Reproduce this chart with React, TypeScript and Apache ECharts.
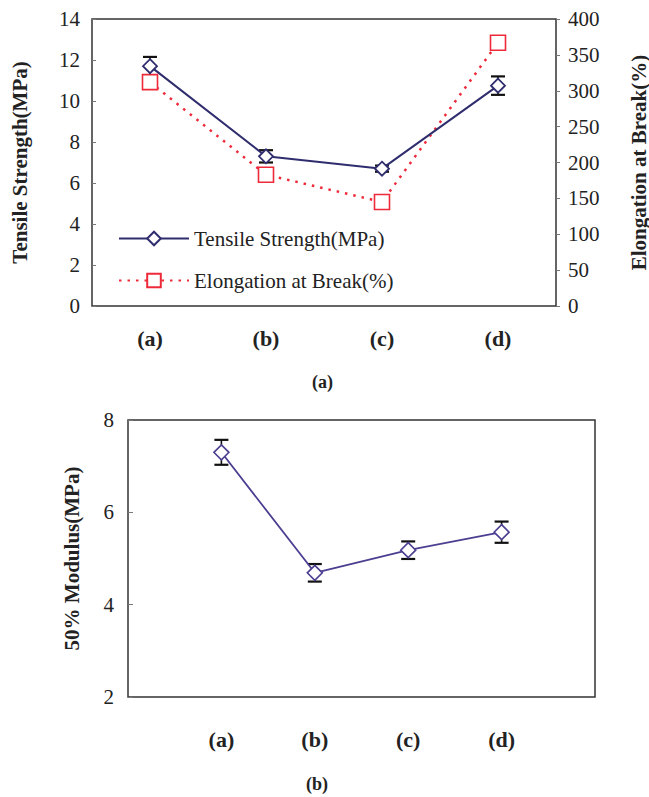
import React, { useEffect, useRef } from "react";
import * as echarts from "echarts";

const categories = ["(a)", "(b)", "(c)", "(d)"];
const tensileStrength = [11.7, 7.3, 6.7, 10.75];
const tensileError = [0.45, 0.3, 0.15, 0.45];
const elongation = [312, 183, 145, 367];
const modulus = [7.3, 4.69, 5.18, 5.57];
const modulusError = [0.27, 0.19, 0.19, 0.23];
const captions = ["(a)", "(b)"];

const SERIF = "'Liberation Serif', 'Times New Roman', serif";
const TXT = "#222";
const NAVY = "#2f2d6e";
const PURPLE = "#4b3f91";
const RED = "#ee2a3a";

function errorRender(params: any, api: any) {
  const x = api.value(0);
  const lo = api.value(1);
  const hi = api.value(2);
  const pLo = api.coord([x, lo]);
  const pHi = api.coord([x, hi]);
  const hw = 7;
  const st = { stroke: "#111", lineWidth: 1.6 };
  return {
    type: "group",
    children: [
      { type: "line", shape: { x1: pHi[0], y1: pHi[1], x2: pLo[0], y2: pLo[1] }, style: st },
      { type: "line", shape: { x1: pHi[0] - hw, y1: pHi[1], x2: pHi[0] + hw, y2: pHi[1] }, style: { stroke: "#111", lineWidth: 2.2 } },
      { type: "line", shape: { x1: pLo[0] - hw, y1: pLo[1], x2: pLo[0] + hw, y2: pLo[1] }, style: { stroke: "#111", lineWidth: 2.2 } },
    ],
  };
}

export default function App() {
  const ref = useRef<HTMLDivElement>(null);
  useEffect(() => {
    if (!ref.current) return;
    const chart = echarts.init(ref.current, null, { renderer: "svg" });
    const labelStyle = { fontFamily: SERIF, fontSize: 21, color: TXT };
    const nameStyle = { fontFamily: SERIF, fontSize: 21, fontWeight: "bold", color: TXT };
    const option: any = {
      animation: false,
      backgroundColor: "#fff",
      textStyle: { fontFamily: SERIF },
      grid: [
        { left: 92, top: 19, width: 464, height: 287, outerBoundsMode: "none", containLabel: false, show: true, borderColor: "#333", borderWidth: 1.5, backgroundColor: "transparent" },
        { left: 128, top: 420, width: 467, height: 277, outerBoundsMode: "none", containLabel: false, show: true, borderColor: "#333", borderWidth: 1.5, backgroundColor: "transparent" },
      ],
      xAxis: [
        {
          type: "category",
          gridIndex: 0,
          data: categories,
          boundaryGap: true,
          axisLine: { show: false },
          axisTick: { show: false },
          axisLabel: { ...labelStyle, fontSize: 22, fontWeight: "bold", margin: 21 },
          splitLine: { show: false },
        },
        {
          type: "category",
          gridIndex: 1,
          data: ["", ...categories, ""],
          boundaryGap: false,
          axisLine: { show: false },
          axisTick: { show: false },
          axisLabel: { ...labelStyle, fontSize: 22, fontWeight: "bold", margin: 31, interval: 0 },
          splitLine: { show: false },
        },
      ],
      yAxis: [
        {
          type: "value",
          gridIndex: 0,
          min: 0,
          max: 14,
          interval: 2,
          position: "left",
          name: "Tensile Strength(MPa)",
          nameLocation: "middle",
          nameRotate: 90,
          nameGap: 62,
          nameTextStyle: nameStyle,
          axisLine: { show: false },
          axisTick: { show: true, inside: true, length: 4, lineStyle: { color: "#777" } },
          axisLabel: { ...labelStyle, margin: 12 },
          splitLine: { show: false },
        },
        {
          type: "value",
          gridIndex: 0,
          min: 0,
          max: 400,
          interval: 50,
          position: "right",
          name: "Elongation at Break(%)",
          nameLocation: "middle",
          nameRotate: 90,
          nameGap: 72,
          nameTextStyle: nameStyle,
          axisLine: { show: false },
          axisTick: { show: true, inside: false, length: 4, lineStyle: { color: "#777" } },
          axisLabel: { ...labelStyle, margin: 12 },
          splitLine: { show: false },
        },
        {
          type: "value",
          gridIndex: 1,
          min: 2,
          max: 8,
          interval: 2,
          position: "left",
          name: "50% Modulus(MPa)",
          nameLocation: "middle",
          nameRotate: 90,
          nameGap: 46,
          nameTextStyle: nameStyle,
          axisLine: { show: false },
          axisTick: { show: true, inside: true, length: 5, lineStyle: { color: "#777" } },
          axisLabel: { ...labelStyle, margin: 14 },
          splitLine: { show: false },
        },
      ],
      legend: {
        orient: "vertical",
        left: 118,
        top: 228,
        padding: 0,
        itemWidth: 70,
        itemHeight: 17,
        itemGap: 21,
        data: ["Tensile Strength(MPa)", "Elongation at Break(%)"],
        textStyle: { fontFamily: SERIF, fontSize: 21, color: TXT },
      },
      series: [
        {
          type: "custom",
          name: "tsErr",
          xAxisIndex: 0,
          yAxisIndex: 0,
          z: 1,
          renderItem: errorRender,
          encode: { x: 0, y: [1, 2] },
          data: tensileStrength.map((v, i) => [i, v - tensileError[i], v + tensileError[i]]),
        },
        {
          type: "line",
          name: "Elongation at Break(%)",
          xAxisIndex: 0,
          yAxisIndex: 1,
          z: 2,
          data: elongation,
          symbol: "rect",
          symbolSize: 15,
          lineStyle: { color: RED, width: 2.5, type: [2.5, 6] },
          itemStyle: { color: "#fff", borderColor: RED, borderWidth: 1.6 },
        },
        {
          type: "line",
          name: "Tensile Strength(MPa)",
          xAxisIndex: 0,
          yAxisIndex: 0,
          z: 3,
          data: tensileStrength,
          symbol: "diamond",
          symbolSize: 14,
          lineStyle: { color: NAVY, width: 2 },
          itemStyle: { color: "#fff", borderColor: NAVY, borderWidth: 1.8 },
        },
        {
          type: "custom",
          name: "modErr",
          xAxisIndex: 1,
          yAxisIndex: 2,
          z: 1,
          renderItem: errorRender,
          encode: { x: 0, y: [1, 2] },
          data: modulus.map((v, i) => [i + 1, v - modulusError[i], v + modulusError[i]]),
        },
        {
          type: "line",
          name: "50% Modulus(MPa)",
          xAxisIndex: 1,
          yAxisIndex: 2,
          z: 3,
          data: modulus.map((v, i) => [i + 1, v]),
          symbol: "diamond",
          symbolSize: 15,
          lineStyle: { color: PURPLE, width: 1.8 },
          itemStyle: { color: "#fff", borderColor: PURPLE, borderWidth: 1.6 },
        },
      ],
      graphic: [
        {
          type: "text",
          left: 312,
          top: 373,
          style: { text: captions[0], fontFamily: SERIF, fontSize: 18, fontWeight: "bold", fill: TXT },
        },
        {
          type: "text",
          left: 306,
          top: 775,
          style: { text: captions[1], fontFamily: SERIF, fontSize: 18, fontWeight: "bold", fill: TXT },
        },
      ],
    };
    chart.setOption(option);
    return () => chart.dispose();
  }, []);
  return (
    <div
      ref={ref}
      style={{ position: "fixed", left: 0, top: 0, width: 649, height: 797, background: "#fff" }}
    />
  );
}
